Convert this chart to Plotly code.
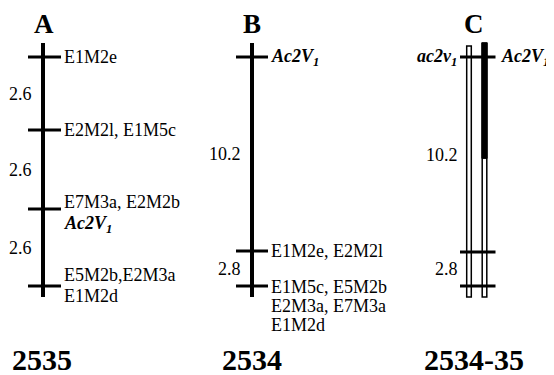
import plotly.graph_objects as go

# ---------------- data ----------------
map_letters = ["A", "B", "C"]
populations = ["2535", "2534", "2534-35"]

A_intervals_cm = [2.6, 2.6, 2.6]
A_marker_labels = [
    ["E1M2e"],
    ["E2M2l, E1M5c"],
    ["E7M3a, E2M2b", "<b><i>Ac2V<sub>1</sub></i></b>"],
    ["E5M2b,E2M3a", "E1M2d"],
]

B_intervals_cm = [10.2, 2.8]
B_marker_labels = [
    ["<b><i>Ac2V<sub>1</sub></i></b>"],
    ["E1M2e, E2M2l"],
    ["E1M5c, E5M2b", "E2M3a, E7M3a", "E1M2d"],
]

C_intervals_cm = [10.2, 2.8]
C_left_labels = ["<b><i>ac2v<sub>1</sub></i></b>"]
C_right_labels = ["<b><i>Ac2V<sub>1</sub></i></b>"]

# ---------------- layout / style (drawing geometry) ----------------
W, H = 554, 375
PAGE_OFF = 8  # default page body margin
TOP_TICK = 57
BAR_TOP, BAR_BOTTOM = 43, 297
A_seg_px = [73, 79, 77]
B_seg_px = [194, 35]
C_seg_px = [195, 34]
A_x, B_x = 43, 252
C_left_x, C_right_x = 469, 484.5
A_label_offsets = [[0], [0], [-7, 15], [-11, 10]]
B_label_offsets = [[0], [0], [1, 20, 39]]
FONT = "Times New Roman, Liberation Serif, serif"
LBL = 18

def cumulative(start, segs):
    ys = [start]
    for s in segs:
        ys.append(ys[-1] + s)
    return ys

fig = go.Figure()
fig.add_trace(go.Scatter(x=[None], y=[None], showlegend=False))
shapes, ann = [], []

def txt(x, y, t, xa="left", size=LBL, bold=False):
    ann.append(dict(x=x, y=y, text=(f"<b>{t}</b>" if bold else t), showarrow=False,
                    xanchor=xa, yanchor="middle", xref="x", yref="y",
                    font=dict(family=FONT, size=size, color="black"), borderpad=0))

def hline(x0, x1, y, w=3):
    shapes.append(dict(type="line", x0=x0, x1=x1, y0=y, y1=y, xref="x", yref="y",
                       line=dict(color="black", width=w)))

# ---- Map A ----
ya = cumulative(TOP_TICK, A_seg_px)
shapes.append(dict(type="line", x0=A_x, x1=A_x, y0=BAR_TOP, y1=BAR_BOTTOM, xref="x", yref="y",
                   line=dict(color="black", width=4)))
for i, y in enumerate(ya):
    hline(A_x - 15, A_x + 18, y)
    for lab, off in zip(A_marker_labels[i], A_label_offsets[i]):
        txt(A_x + 20, y + off, lab)
for i, d in enumerate(A_intervals_cm):
    txt(A_x - 10, (ya[i] + ya[i + 1]) / 2, f"{d}", xa="right")

# ---- Map B ----
yb = cumulative(TOP_TICK, B_seg_px)
shapes.append(dict(type="line", x0=B_x, x1=B_x, y0=BAR_TOP, y1=BAR_BOTTOM, xref="x", yref="y",
                   line=dict(color="black", width=4)))
for i, y in enumerate(yb):
    hline(B_x - 16, B_x + 16, y)
    for lab, off in zip(B_marker_labels[i], B_label_offsets[i]):
        txt(B_x + 18, y + off, lab)
for i, d in enumerate(B_intervals_cm):
    txt(B_x - 10, (yb[i] + yb[i + 1]) / 2, f"{d}", xa="right")

# ---- Map C ----
yc = cumulative(TOP_TICK, C_seg_px)
for cx, top in [(C_left_x, BAR_TOP + 3), (C_right_x, BAR_TOP)]:
    shapes.append(dict(type="rect", x0=cx - 2.3, x1=cx + 2.3, y0=top, y1=BAR_BOTTOM,
                       xref="x", yref="y", fillcolor="white", line=dict(color="black", width=1.5)))
seg_end = yc[0] + C_seg_px[0] * 0.52
shapes.append(dict(type="rect", x0=C_right_x - 2.6, x1=C_right_x + 2.6, y0=BAR_TOP, y1=seg_end,
                   xref="x", yref="y", fillcolor="black", line=dict(color="black", width=1)))
for y in yc:
    hline(C_left_x - 9, C_right_x + 11, y)
txt(C_left_x - 11, yc[0], C_left_labels[0], xa="right")
txt(C_right_x + 15, yc[0], C_right_labels[0], xa="left")
for i, d in enumerate(C_intervals_cm):
    txt(C_left_x - 10, (yc[i] + yc[i + 1]) / 2, f"{d}", xa="right")

# ---- titles ----
for cx, letter in zip([A_x + 1, B_x, 474], map_letters):
    txt(cx, 24, letter, xa="center", size=27, bold=True)
for cx, pop in zip([A_x - 1, B_x, 474], populations):
    txt(cx, 359, pop, xa="center", size=30, bold=True)

fig.update_layout(
    width=W, height=H, margin=dict(l=0, r=0, t=0, b=0),
    paper_bgcolor="white", plot_bgcolor="white",
    xaxis=dict(range=[PAGE_OFF, W + PAGE_OFF], visible=False, fixedrange=True),
    yaxis=dict(range=[H + PAGE_OFF, PAGE_OFF], visible=False, fixedrange=True),
    shapes=shapes, annotations=ann, showlegend=False,
)
fig.write_html("out.html")
